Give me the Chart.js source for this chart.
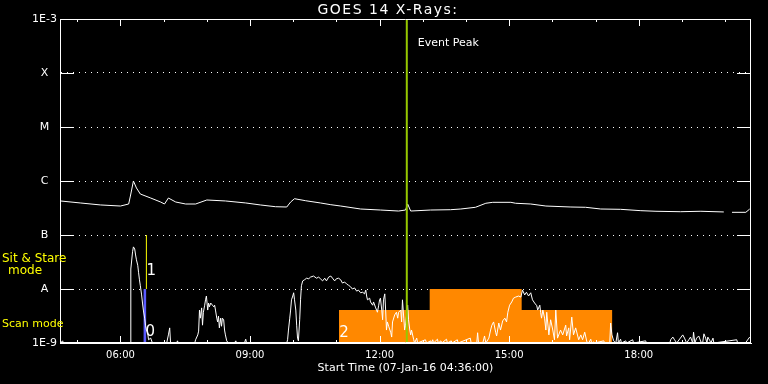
<!DOCTYPE html>
<html><head><meta charset="utf-8">
<script src="https://cdn.jsdelivr.net/npm/chart.js@4.4.1/dist/chart.umd.min.js"></script>
<style>html,body{margin:0;padding:0;background:#000;overflow:hidden}canvas{display:block}</style>
</head><body>
<canvas id="c" width="768" height="384"></canvas>
<script>
// ---- data ----
const xTickHours = [6, 9, 12, 15, 18];
const xTickLabels = ['06:00', '09:00', '12:00', '15:00', '18:00'];
const yTickFlux = [1e-9, 1e-8, 1e-7, 1e-6, 1e-5, 1e-4, 1e-3];
const yTickLabels = ['1E-9', 'A', 'B', 'C', 'M', 'X', '1E-3'];

// GOES long channel (hours since 00:00 UT, W/m^2)
const goesTimes = [4.61,5.07,5.54,6.00,6.19,6.23,6.30,6.37,6.46,6.70,6.93,7.02,7.11,7.28,7.51,7.74,8.00,8.43,8.90,9.24,9.59,9.85,9.94,10.03,10.29,10.63,10.87,11.10,11.56,12.02,12.44,12.60,12.65,12.72,13.18,13.64,13.88,14.22,14.46,14.62,15.04,15.15,15.50,15.85,16.43,16.77,17.12,17.58,18.05,18.40,18.97,19.44,19.97,20.06,20.16,20.48,20.57];
const goesFlux = [4.27e-7,3.92e-7,3.60e-7,3.44e-7,3.75e-7,5.27e-7,1.00e-6,7.42e-7,5.74e-7,4.84e-7,4.08e-7,3.75e-7,4.84e-7,4.08e-7,3.75e-7,3.75e-7,4.45e-7,4.27e-7,3.92e-7,3.60e-7,3.34e-7,3.30e-7,4.08e-7,4.70e-7,4.31e-7,3.92e-7,3.64e-7,3.44e-7,3.03e-7,2.90e-7,2.78e-7,2.90e-7,3.75e-7,2.78e-7,2.90e-7,2.94e-7,3.03e-7,3.26e-7,3.87e-7,4.03e-7,4.03e-7,3.87e-7,3.75e-7,3.44e-7,3.30e-7,3.26e-7,3.03e-7,2.99e-7,2.82e-7,2.75e-7,2.70e-7,2.75e-7,2.67e-7,null,2.63e-7,2.63e-7,3.03e-7];

// lower (mode / count-rate) trace, arbitrary linear units
const lowTimes = [4.61,4.66,4.68,6.23,6.24,6.28,6.30,6.33,6.35,6.37,6.40,6.42,6.44,6.46,6.49,6.51,6.53,6.56,6.58,6.60,6.63,6.65,6.70,6.74,7.07,7.11,7.14,7.16,7.30,7.32,7.34,7.72,7.74,7.79,7.81,7.83,7.85,7.88,7.90,7.92,7.95,7.97,7.99,8.02,8.04,8.06,8.09,8.11,8.13,8.16,8.18,8.20,8.23,8.25,8.27,8.29,8.32,8.34,8.36,8.39,8.41,8.43,8.46,8.50,8.64,8.67,8.69,8.87,8.90,8.92,
9.85,9.87,9.89,9.92,9.94,9.96,9.99,10.01,10.03,10.06,10.08,10.10,10.12,10.15,10.17,10.19,10.22,10.26,10.31,10.36,10.40,10.47,10.54,10.59,10.63,10.68,10.73,10.77,10.82,10.87,10.91,10.96,11.00,11.05,11.10,11.14,11.19,11.24,11.28,11.33,11.37,11.42,11.47,11.51,11.56,11.61,11.65,11.68,11.70,11.72,11.77,11.79,11.84,11.86,11.91,11.95,11.98,12.00,12.02,12.05,12.07,12.09,12.12,12.14,12.16,12.18,12.21,12.26,12.28,12.30,12.35,12.39,12.42,12.44,12.49,12.51,12.53,12.56,12.58,12.60,12.65,12.67,12.70,12.72,12.74,12.79,12.81,12.86,12.88,13.06,13.09,13.18,13.20,13.23,13.25,13.34,13.36,13.42,13.44,13.55,13.57,13.66,13.68,13.80,13.82,14.10,14.12,
14.25,14.27,14.29,14.39,14.43,14.46,14.53,14.57,14.60,14.64,14.69,14.71,14.76,14.80,14.85,14.90,14.94,14.97,15.01,15.06,15.10,15.15,15.22,15.27,15.31,15.36,15.40,15.45,15.50,15.54,15.59,15.64,15.66,15.71,15.73,15.75,15.78,15.82,15.85,15.87,15.92,15.96,16.01,16.05,16.08,16.12,16.19,16.24,16.31,16.33,16.38,16.40,16.45,16.49,16.54,16.61,16.66,16.70,16.75,16.80,16.84,16.89,16.91,16.96,16.98,17.19,17.21,
17.33,17.35,17.38,17.42,17.47,17.51,17.53,17.58,17.60,17.70,17.72,17.86,17.88,18.16,18.18,18.72,18.74,18.79,18.83,18.88,19.02,19.06,19.11,19.16,19.20,19.25,19.27,19.30,19.34,19.39,19.44,19.48,19.51,19.55,19.58,19.60,19.65,19.67,19.72,19.74,20.27,20.29,20.47,20.57];
const lowValues = [0,0.04,0,0,1.37,1.69,1.78,1.74,1.63,1.54,1.44,1.30,1.17,1.06,0.89,0.74,0.61,0.46,0.33,0.24,0.19,0.06,0.09,0,0,0.15,0.28,0,0,0.04,0,0,0.06,0.15,0.22,0.61,0.46,0.65,0.33,0.57,0.70,0.80,0.87,0.61,0.74,0.67,0.74,0.72,0.70,0.67,0.70,0.61,0.46,0.39,0.50,0.28,0.46,0.31,0.46,0.43,0.24,0.15,0.04,0,0,0.04,0,0,0.07,0,
0,0.06,0.24,0.46,0.61,0.80,0.87,0.93,0.80,0.61,0.33,0.09,0.04,0.43,0.80,1.06,1.15,1.17,1.20,1.19,1.22,1.24,1.20,1.22,1.19,1.15,1.20,1.15,1.22,1.24,1.20,1.15,1.19,1.20,1.17,1.11,1.13,1.09,1.07,1.04,1.00,1.02,0.96,0.98,0.93,0.94,0.91,0.98,0.87,0.80,0.83,0.76,0.70,0.76,0.65,0.57,0.70,0.80,0.83,0.61,0.43,0.80,0.91,0.61,0.24,0.39,0.31,0.19,0.11,0.39,0.52,0.57,0.46,0.57,0.61,0.39,0.80,0.46,0.24,0.33,0.70,0.43,0.24,0.15,0.24,0.06,0,0.09,0,0.06,0,0.04,0,0.06,0,0.07,0,0.04,0,0.07,0,0.04,0,0.06,0,0.09,0,
0,0.19,0,0,0.13,0,0.09,0.24,0.33,0.39,0.19,0.13,0.37,0.24,0.41,0.46,0.39,0.57,0.70,0.76,0.83,0.85,0.87,0.85,0.98,0.89,0.94,0.87,0.93,0.80,0.74,0.69,0.61,0.70,0.56,0.46,0.61,0.46,0.24,0.57,0.15,0.43,0.24,0.06,0.61,0.09,0.24,0.15,0.33,0.13,0.28,0.06,0.48,0.15,0.28,0.06,0.15,0.06,0.20,0.02,0,0.07,0,0.02,0,0.04,0,
0,0.37,0.15,0.04,0,0.19,0,0.07,0,0.04,0,0.06,0,0.04,0,0,0.06,0.11,0.06,0,0.15,0.09,0,0.06,0.11,0,0.20,0,0.09,0.13,0.02,0,0.17,0.09,0,0.11,0.04,0,0.09,0,0.06,0,0,0.11];

// observing modes (hours, level in lower-trace units)
const modeStart = [11.06, 13.16, 15.29];
const modeEnd = [13.16, 15.29, 17.39];
const modeLevel = [0.61, 1.0, 0.61];
const sitStareStart = 6.53, sitStareEnd = 6.60, sitStareLevel = 1.0, sitStareMarkTop = 2.0;
const eventPeak = 12.63;

// ---- build datasets ----
const xy = (ts, vs) => ts.map((t, i) => ({x: t, y: vs[i]}));
const modePts = [{x: modeStart[0], y: 0}];
modeStart.forEach((s, i) => { modePts.push({x: s, y: modeLevel[i]}, {x: modeEnd[i], y: modeLevel[i]}); });
modePts.push({x: modeEnd[modeEnd.length - 1], y: 0});

const base = {pointRadius: 0, tension: 0, fill: false};
const datasets = [
  {...base, data: modePts, yAxisID: 'y2', borderWidth: 0, backgroundColor: '#ff8800', fill: 'origin', order: 6},
  {...base, data: [{x: sitStareStart, y: 0}, {x: sitStareStart, y: sitStareLevel}, {x: sitStareEnd, y: sitStareLevel}, {x: sitStareEnd, y: 0}],
    yAxisID: 'y2', borderWidth: 0, backgroundColor: '#5a5aff', fill: 'origin', order: 5},
  {...base, data: [{x: sitStareEnd, y: sitStareLevel}, {x: sitStareEnd, y: sitStareMarkTop}], yAxisID: 'y2', borderColor: '#ffff00', borderWidth: 1, order: 4},
  {...base, data: xy(lowTimes, lowValues), yAxisID: 'y2', borderColor: '#ffffff', borderWidth: 1, order: 3},
  {...base, data: xy(goesTimes, goesFlux), yAxisID: 'y', borderColor: '#ffffff', borderWidth: 1, spanGaps: false, order: 2},
  {...base, data: [{x: eventPeak, y: 0}, {x: eventPeak, y: 6}], yAxisID: 'y2', borderColor: '#96c800', borderWidth: 2, order: 1}
];

const framePlugin = {
  id: 'frame',
  afterDatasetsDraw(chart) {
    const {ctx, chartArea: a, scales: {x, y}} = chart;
    ctx.save();
    ctx.strokeStyle = '#fff'; ctx.lineWidth = 1;
    ctx.beginPath();
    ctx.moveTo(a.left, a.top + 0.5); ctx.lineTo(a.right, a.top + 0.5);
    ctx.moveTo(a.right - 0.5, a.top); ctx.lineTo(a.right - 0.5, a.bottom);
    ctx.moveTo(a.left, a.bottom - 0.5); ctx.lineTo(a.right, a.bottom - 0.5);
    yTickFlux.forEach(v => {
      const p = Math.round(y.getPixelForValue(v)) + 0.5;
      ctx.moveTo(a.left, p); ctx.lineTo(a.left + 14, p);
      ctx.moveTo(a.right - 14, p); ctx.lineTo(a.right, p);
    });
    for (let h = Math.ceil(x.min); h <= x.max; h++) {
      const p = Math.round(x.getPixelForValue(h)) + 0.5;
      const L = xTickHours.includes(h) ? 7 : 3;
      ctx.moveTo(p, a.top); ctx.lineTo(p, a.top + L);
      ctx.moveTo(p, a.bottom); ctx.lineTo(p, a.bottom - L);
    }
    ctx.stroke();
    ctx.restore();
  },
  afterDraw(chart) {
    const {ctx, chartArea: a, scales: {x, y2}} = chart;
    ctx.save();
    ctx.textBaseline = 'middle';
    // title
    ctx.fillStyle = '#fff';
    ctx.font = '14px "DejaVu Sans"';
    ctx.textAlign = 'center';
    try { ctx.letterSpacing = '1.5px'; } catch (e) {}
    ctx.fillText('GOES 14 X-Rays:', 388, 10);
    try { ctx.letterSpacing = '0px'; } catch (e) {}
    // event peak
    ctx.textAlign = 'left';
    ctx.font = '11px "DejaVu Sans"';
    ctx.fillText('Event Peak', x.getPixelForValue(eventPeak) + 11, a.top + 24);
    // mode captions
    ctx.fillStyle = '#ffff00';
    ctx.font = '12px "DejaVu Sans"';
    ctx.fillText('Sit & Stare', 2, 259);
    ctx.textAlign = 'center';
    ctx.fillText('mode', 25, 271);
    ctx.textAlign = 'left';
    ctx.font = '11px "DejaVu Sans"';
    ctx.fillText('Scan mode', 2, 324);
    // mode numbers
    ctx.fillStyle = '#fff';
    ctx.font = '15px "DejaVu Sans"';
    ctx.textAlign = 'center';
    ctx.fillText('1', x.getPixelForValue(sitStareEnd) + 5, y2.getPixelForValue(1.33));
    ctx.fillText('0', x.getPixelForValue(sitStareEnd) + 4, y2.getPixelForValue(0.2));
    ctx.fillText('2', x.getPixelForValue(modeStart[0]) + 5, y2.getPixelForValue(0.18));
    ctx.restore();
  }
};

Chart.defaults.font.family = '"DejaVu Sans", sans-serif';
Chart.defaults.color = '#fff';

new Chart(document.getElementById('c'), {
  type: 'line',
  data: {datasets},
  plugins: [framePlugin],
  options: {
    responsive: false, animation: false, devicePixelRatio: 1,
    layout: {padding: {top: 19, right: 17, left: 0, bottom: 0}},
    plugins: {legend: {display: false}, tooltip: {enabled: false}, title: {display: false}},
    scales: {
      x: {
        type: 'linear', min: 4.6, max: 20.6, position: 'bottom',
        afterBuildTicks: s => { s.ticks = xTickHours.map(v => ({value: v})); },
        afterFit: s => { s.height = 41; },
        grid: {display: false, drawTicks: false},
        border: {display: true, color: '#fff', width: 1},
        ticks: {color: '#fff', font: {size: 10}, padding: 6, maxRotation: 0, autoSkip: false,
          callback: (v, i) => xTickLabels[i]},
        title: {display: true, text: 'Start Time (07-Jan-16 04:36:00)', color: '#fff', font: {size: 11}, padding: {top: 0, bottom: 9}}
      },
      y: {
        type: 'logarithmic', min: 1e-9, max: 1e-3, position: 'left',
        afterBuildTicks: s => { s.ticks = yTickFlux.map(v => ({value: v})); },
        afterFit: s => { s.width = 60; },
        grid: {display: true, color: '#fff', lineWidth: 1, drawTicks: false},
        border: {display: true, color: '#fff', width: 1, dash: [1, 5]},
        ticks: {color: '#fff', font: {size: 11}, padding: 3, crossAlign: 'center', autoSkip: false,
          callback: (v, i) => yTickLabels[i]}
      },
      y2: {type: 'linear', min: 0, max: 6, display: false}
    }
  }
});
</script>
</body></html>
